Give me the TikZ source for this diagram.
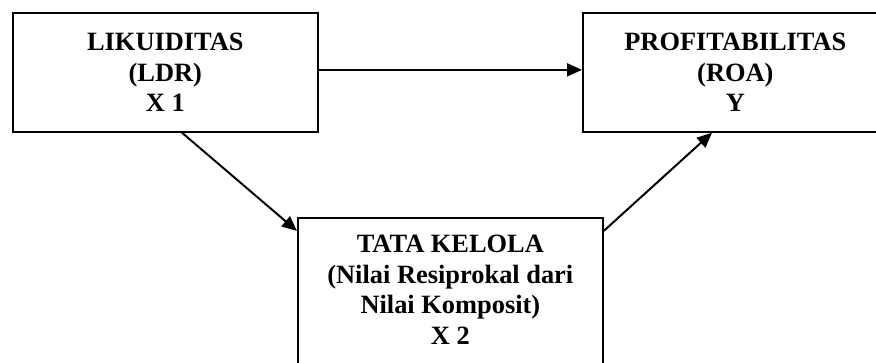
\documentclass[tikz,border=0pt]{standalone}
\usepackage{fontspec}
\setmainfont{Liberation Serif}
\usetikzlibrary{arrows.meta}
\begin{document}
\begin{tikzpicture}[x=1pt,y=-1pt,
  box/.style={draw, line width=1.7pt, minimum width=305pt, minimum height=119pt,
    inner sep=0pt, anchor=north west},
  txt/.style={align=center, inner sep=0pt, font=\fontsize{26.4}{30.4}\selectfont\bfseries},
  conn/.style={line width=2pt, -{Triangle[length=15pt,width=13pt]}}]
\useasboundingbox (0,0) rectangle (876,362);
\clip (0,0) rectangle (876,362);
\node[box] (lb) at (12,12) {};
\node[box] (rb) at (582,12) {};
\node[box, minimum height=150pt] (bb) at (297,217) {};
\node[txt] (lbt) at (lb.center) {LIKUIDITAS\\(LDR)\\X 1};
\node[txt] (rbt) at (rb.center) {PROFITABILITAS\\(ROA)\\Y};
\node[txt] (bbt) at ([yshift=3pt]bb.center) {TATA KELOLA\\(Nilai Resiprokal dari\\Nilai Komposit)\\X 2};
\draw[conn] ([yshift=2.5pt]lb.east) -- ([yshift=2.5pt]rb.west);
\draw[conn] ([xshift=170pt]lb.south west) -- ([yshift=-14pt]bb.north west);
\draw[conn] ([yshift=-14pt]bb.north east) -- ([xshift=130pt]rb.south west);
\end{tikzpicture}
\end{document}
